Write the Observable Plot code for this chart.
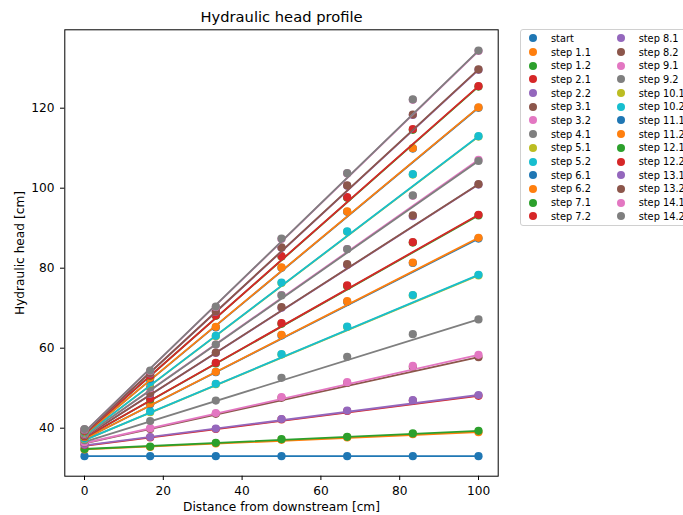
<!DOCTYPE html>
<html>
<head>
<meta charset="utf-8">
<script src="https://cdn.jsdelivr.net/npm/d3@7"></script>
<script src="https://cdn.jsdelivr.net/npm/@observablehq/plot@0.6"></script>
<style>
  html, body { margin: 0; padding: 0; background: #fff; overflow: hidden; }
  #fig { position: relative; width: 683px; height: 515px; font-family: "DejaVu Sans", sans-serif; }
  #legend {
    position: absolute; left: 520px; top: 29px; width: 180px;
    box-sizing: border-box; border: 1px solid #d0d0d0; border-radius: 3px;
    background: rgba(255,255,255,0.8); padding: 1.5px 0 1.5px 0;
    display: grid; grid-template-rows: repeat(14, 13.69px); grid-auto-flow: column;
    grid-template-columns: 87.7px 87.7px;
    font-size: 9.8px; color: #000;
  }
  .item { display: flex; align-items: center; height: 13.69px; white-space: nowrap; }
  .mk { width: 8px; height: 8px; border-radius: 50%; margin-left: 8.4px; flex: none; }
  .lb { margin-left: 13.6px; }
</style>
</head>
<body>
<div id="fig"></div>
<script>
const xPositions = [0, 16.67, 33.33, 50, 66.67, 83.33, 100];

const seriesNames = [
  "start", "step 1.1", "step 1.2", "step 2.1", "step 2.2", "step 3.1", "step 3.2",
  "step 4.1", "step 5.1", "step 5.2", "step 6.1", "step 6.2", "step 7.1", "step 7.2",
  "step 8.1", "step 8.2", "step 9.1", "step 9.2", "step 10.1", "step 10.2",
  "step 11.1", "step 11.2", "step 12.1", "step 12.2", "step 13.1", "step 13.2",
  "step 14.1", "step 14.2"
];

// measured hydraulic head [cm] at each x position, one row per series
const heads = [
  [33.0, 33.0, 33.0, 33.0, 33.0, 33.0, 33.0],
  [34.7, 35.3, 36.2, 37.1, 37.7, 38.5, 39.0],
  [34.8, 35.4, 36.35, 37.25, 37.85, 38.7, 39.35],
  [35.8, 37.7, 39.8, 42.2, 44.3, 46.9, 48.1],
  [35.9, 37.8, 39.9, 42.3, 44.4, 47.0, 48.3],
  [36.4, 39.8, 43.6, 47.6, 51.3, 55.3, 57.75],
  [36.5, 40.0, 43.8, 47.8, 51.5, 55.6, 58.35],
  [37.0, 41.8, 46.9, 52.6, 57.85, 63.5, 67.2],
  [37.3, 44.0, 51.0, 58.4, 65.3, 73.2, 78.2],
  [37.4, 44.2, 51.1, 58.5, 65.4, 73.3, 78.35],
  [37.7, 46.0, 54.0, 63.2, 71.6, 81.3, 87.4],
  [37.8, 46.2, 54.1, 63.35, 71.75, 81.4, 87.6],
  [38.0, 47.2, 56.2, 66.1, 75.5, 86.4, 93.2],
  [38.1, 47.4, 56.35, 66.25, 75.7, 86.5, 93.35],
  [38.3, 48.6, 58.8, 70.1, 80.8, 93.0, 100.9],
  [38.4, 48.8, 58.9, 70.25, 81.0, 93.2, 101.0],
  [38.6, 50.0, 60.9, 73.3, 84.8, 98.1, 107.1],
  [38.7, 50.2, 60.9, 73.2, 84.75, 98.2, 106.8],
  [38.9, 51.3, 63.0, 76.3, 89.1, 103.4, 112.9],
  [39.0, 51.5, 63.1, 76.4, 89.2, 103.5, 113.0],
  [39.1, 52.4, 65.2, 80.1, 94.1, 109.9, 120.1],
  [39.2, 52.6, 65.35, 80.2, 94.2, 110.0, 120.2],
  [39.3, 53.1, 68.1, 82.9, 97.6, 114.6, 125.4],
  [39.4, 53.2, 68.2, 83.0, 97.75, 114.75, 125.5],
  [39.5, 53.7, 69.1, 85.1, 100.6, 118.3, 129.6],
  [39.6, 53.8, 69.2, 85.2, 100.7, 118.4, 129.7],
  [39.7, 54.3, 70.3, 87.3, 103.7, 122.1, 134.3],
  [39.8, 54.4, 70.4, 87.4, 103.75, 122.2, 134.4]
];

// linear profile of each series: head at the downstream end (x = 0); upstream end (x = 100) is the last measured head
const lineLeft = [
  33.0, 34.7, 34.8, 35.6, 35.7, 36.2, 36.3, 36.6, 37.0, 37.0, 37.3, 37.3, 37.6, 37.6,
  37.8, 37.8, 38.0, 38.0, 38.2, 38.2, 38.4, 38.4, 38.6, 38.6, 38.8, 38.8, 39.0, 39.0
];
const lineRight = heads.map(r => r[r.length - 1]);

const xTicks = [0, 20, 40, 60, 80, 100];
const yTicks = [40, 60, 80, 100, 120];

const tab10 = ["#1f77b4", "#ff7f0e", "#2ca02c", "#d62728", "#9467bd",
               "#8c564b", "#e377c2", "#7f7f7f", "#bcbd22", "#17becf"];
const colorRange = seriesNames.map((_, i) => tab10[i % 10]);

const points = [];
heads.forEach((row, i) => row.forEach((h, j) => points.push({series: seriesNames[i], x: xPositions[j], head: h})));
const lines = [];
seriesNames.forEach((s, i) => {
  lines.push({series: s, x: xPositions[0], head: lineLeft[i]});
  lines.push({series: s, x: xPositions[xPositions.length - 1], head: lineRight[i]});
});

const seriesMarks = seriesNames.flatMap(s => [
  Plot.line(lines.filter(d => d.series === s), {x: "x", y: "head", stroke: "series", strokeWidth: 1.8}),
  Plot.dot(points.filter(d => d.series === s), {x: "x", y: "head", fill: "series", r: 4.1, stroke: null})
]);

const chart = Plot.plot({
  width: 683,
  height: 515,
  marginTop: 29.3,
  marginLeft: 64.3,
  marginRight: 185.3,
  marginBottom: 39.3,
  style: {fontFamily: "DejaVu Sans", fontSize: "12.2px", color: "#000", background: "#fff"},
  x: {domain: [-5, 105]},
  y: {domain: [28, 139.6]},
  color: {type: "ordinal", domain: seriesNames, range: colorRange},
  marks: [
    ...seriesMarks,
    Plot.frame({stroke: "#000", strokeWidth: 1}),
    Plot.axisX({ticks: xTicks, tickSize: 4.3, tickPadding: 5.5, label: null, fontSize: 12.2}),
    Plot.axisY({ticks: yTicks, tickSize: 4.3, tickPadding: 6, label: null, fontSize: 12.2}),
    Plot.text(["Distance from downstream [cm]"], {frameAnchor: "bottom", textAnchor: "middle", lineAnchor: "middle", dy: 31.3, text: d => d, fontSize: 12.2, fill: "#000"}),
    Plot.text(["Hydraulic head [cm]"], {frameAnchor: "left", textAnchor: "middle", lineAnchor: "middle", dx: -44.8, rotate: -90, text: d => d, fontSize: 12.2, fill: "#000"}),
    Plot.text(["Hydraulic head profile"], {frameAnchor: "top", textAnchor: "middle", lineAnchor: "middle", dy: -12.6, text: d => d, fontSize: 14.7, fill: "#000"})
  ]
});

const fig = document.getElementById("fig");
fig.appendChild(chart);

const legend = document.createElement("div");
legend.id = "legend";
seriesNames.forEach((s, i) => {
  const item = document.createElement("div");
  item.className = "item";
  const mk = document.createElement("span");
  mk.className = "mk";
  mk.style.background = colorRange[i];
  const lb = document.createElement("span");
  lb.className = "lb";
  lb.textContent = s;
  item.appendChild(mk);
  item.appendChild(lb);
  legend.appendChild(item);
});
fig.appendChild(legend);
</script>
</body>
</html>
